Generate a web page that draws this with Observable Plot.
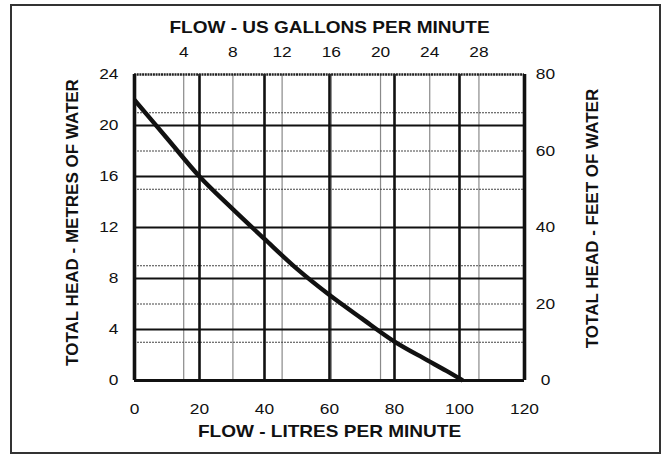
<!DOCTYPE html>
<html>
<head>
<meta charset="utf-8">
<script src="https://cdn.jsdelivr.net/npm/d3@7"></script>
<script src="https://cdn.jsdelivr.net/npm/@observablehq/plot@0.6"></script>
<style>
  html, body { margin: 0; padding: 0; background: #fff; }
  #wrap { position: relative; width: 663px; height: 454px; overflow: hidden; }
  #border { position: absolute; left: 10px; top: 4px; width: 647px; height: 446px; border: 2.5px solid #333; }
  #chart { position: absolute; left: 0; top: 0; }
</style>
</head>
<body>
<div id="wrap"><div id="border"></div><div id="chart"></div></div>
<script>
// Pump curve: flow (litres per minute) vs total head (metres of water)
const flowLitres = [0, 10, 20, 30, 40, 50, 60, 70, 80, 90, 96, 101];
const headMetres = [22.0, 19.0, 16.0, 13.5, 11.1, 8.75, 6.7, 4.85, 3.05, 1.6, 0.75, 0];

// Axis ticks
const litreTicks = [0, 20, 40, 60, 80, 100, 120];
const metreTicks = [0, 4, 8, 12, 16, 20, 24];
const feetTicks = [0, 20, 40, 60, 80];
const feetGrid = [10, 20, 30, 40, 50, 60, 70];
const gallonTicks = [4, 8, 12, 16, 20, 24, 28];

// Scale conversions (top/right secondary axes)
const LITRES_PER_GALLON = 3.785;
const FEET_AXIS_MAX = 80; // right axis 0..80 ft spans the 0..24 m range
const METRE_AXIS_MAX = 24;
const ftToY = f => f * METRE_AXIS_MAX / FEET_AXIS_MAX;
const galToX = g => g * LITRES_PER_GALLON;

// Titles
const topTitle = "FLOW - US GALLONS PER MINUTE";
const bottomTitle = "FLOW - LITRES PER MINUTE";
const leftTitle = "TOTAL HEAD - METRES OF WATER";
const rightTitle = "TOTAL HEAD - FEET OF WATER";

const data = flowLitres.map((x, i) => ({x, y: headMetres[i]}));

const tickFont = 15.5;
const titleFont = 17;
const sideTitleFont = 17;

const chart = Plot.plot({
  width: 663,
  height: 454,
  marginLeft: 134,
  marginRight: 139,
  marginTop: 74,
  marginBottom: 74,
  x: {domain: [0, 120], axis: null},
  y: {domain: [0, 24], axis: null},
  style: {fontFamily: "'Liberation Sans', Arial, sans-serif", background: "transparent", color: "#111"},
  marks: [
    // thin grid: US gallons (vertical), feet (horizontal)
    Plot.ruleX(gallonTicks.map(galToX), {stroke: "#8a8a8a", strokeWidth: 1.2}),
    Plot.ruleY(feetGrid.map(ftToY), {stroke: "#444", strokeWidth: 1.2, strokeDasharray: "2,1"}),
    // main grid: litres and metres
    Plot.ruleX(litreTicks.slice(1, -1), {stroke: "#111", strokeWidth: 2.6}),
    Plot.ruleY(metreTicks.slice(1, -1), {stroke: "#111", strokeWidth: 2.2}),
    // frame
    Plot.ruleY([metreTicks[metreTicks.length - 1]], {stroke: "#222", strokeWidth: 2.5, strokeDasharray: "2,0.7"}),
    Plot.ruleY([0], {stroke: "#111", strokeWidth: 3.2}),
    Plot.ruleX([0, 120], {stroke: "#111", strokeWidth: 3.6}),
    // curve
    Plot.line(data, {x: "x", y: "y", curve: "monotone-x", stroke: "#111", strokeWidth: 4.4, strokeLinecap: "butt"}),
    // tick labels
    Plot.text(metreTicks, {x: 0, y: d => d, text: d => String(d), dx: -16, textAnchor: "end", fontSize: tickFont, fill: "#111", className: "hstretch"}),
    Plot.text(feetTicks, {x: 120, y: ftToY, text: d => String(d), dx: 21, textAnchor: "middle", fontSize: tickFont, fill: "#111", className: "hstretch"}),
    Plot.text(litreTicks, {x: d => d, y: 0, text: d => String(d), dy: 29, fontSize: tickFont, fill: "#111", className: "hstretch"}),
    Plot.text(gallonTicks, {x: galToX, y: 24, text: d => String(d), dy: -22, fontSize: tickFont, fill: "#111", className: "hstretch"}),
    // axis titles
    Plot.text([topTitle], {frameAnchor: "top", dy: -54, fontSize: titleFont, fontWeight: "bold", fill: "#111", className: "hstretch"}),
    Plot.text([bottomTitle], {frameAnchor: "bottom", dy: 56, fontSize: titleFont, fontWeight: "bold", fill: "#111", className: "hstretch"}),
    Plot.text([leftTitle], {frameAnchor: "left", textAnchor: "middle", rotate: -90, dx: -62, dy: -5, fontSize: sideTitleFont, fontWeight: "bold", fill: "#111"}),
    Plot.text([rightTitle], {frameAnchor: "right", textAnchor: "middle", rotate: -90, dx: 68, dy: -9, fontSize: sideTitleFont, fontWeight: "bold", fill: "#111"})
  ]
});
// Reference lettering is horizontally wide: stretch horizontal labels about their anchors
d3.select(chart).selectAll("g.hstretch text").each(function() {
  const t = d3.select(this);
  const tr = t.attr("transform");
  if (tr) {
    t.attr("transform", tr + " scale(1.12,1)");
  } else {
    const x = +t.attr("x") || 0, y = +t.attr("y") || 0;
    t.attr("x", null).attr("y", null).attr("transform", `translate(${x},${y}) scale(1.12,1)`);
  }
});
document.getElementById("chart").appendChild(chart);
</script>
</body>
</html>
